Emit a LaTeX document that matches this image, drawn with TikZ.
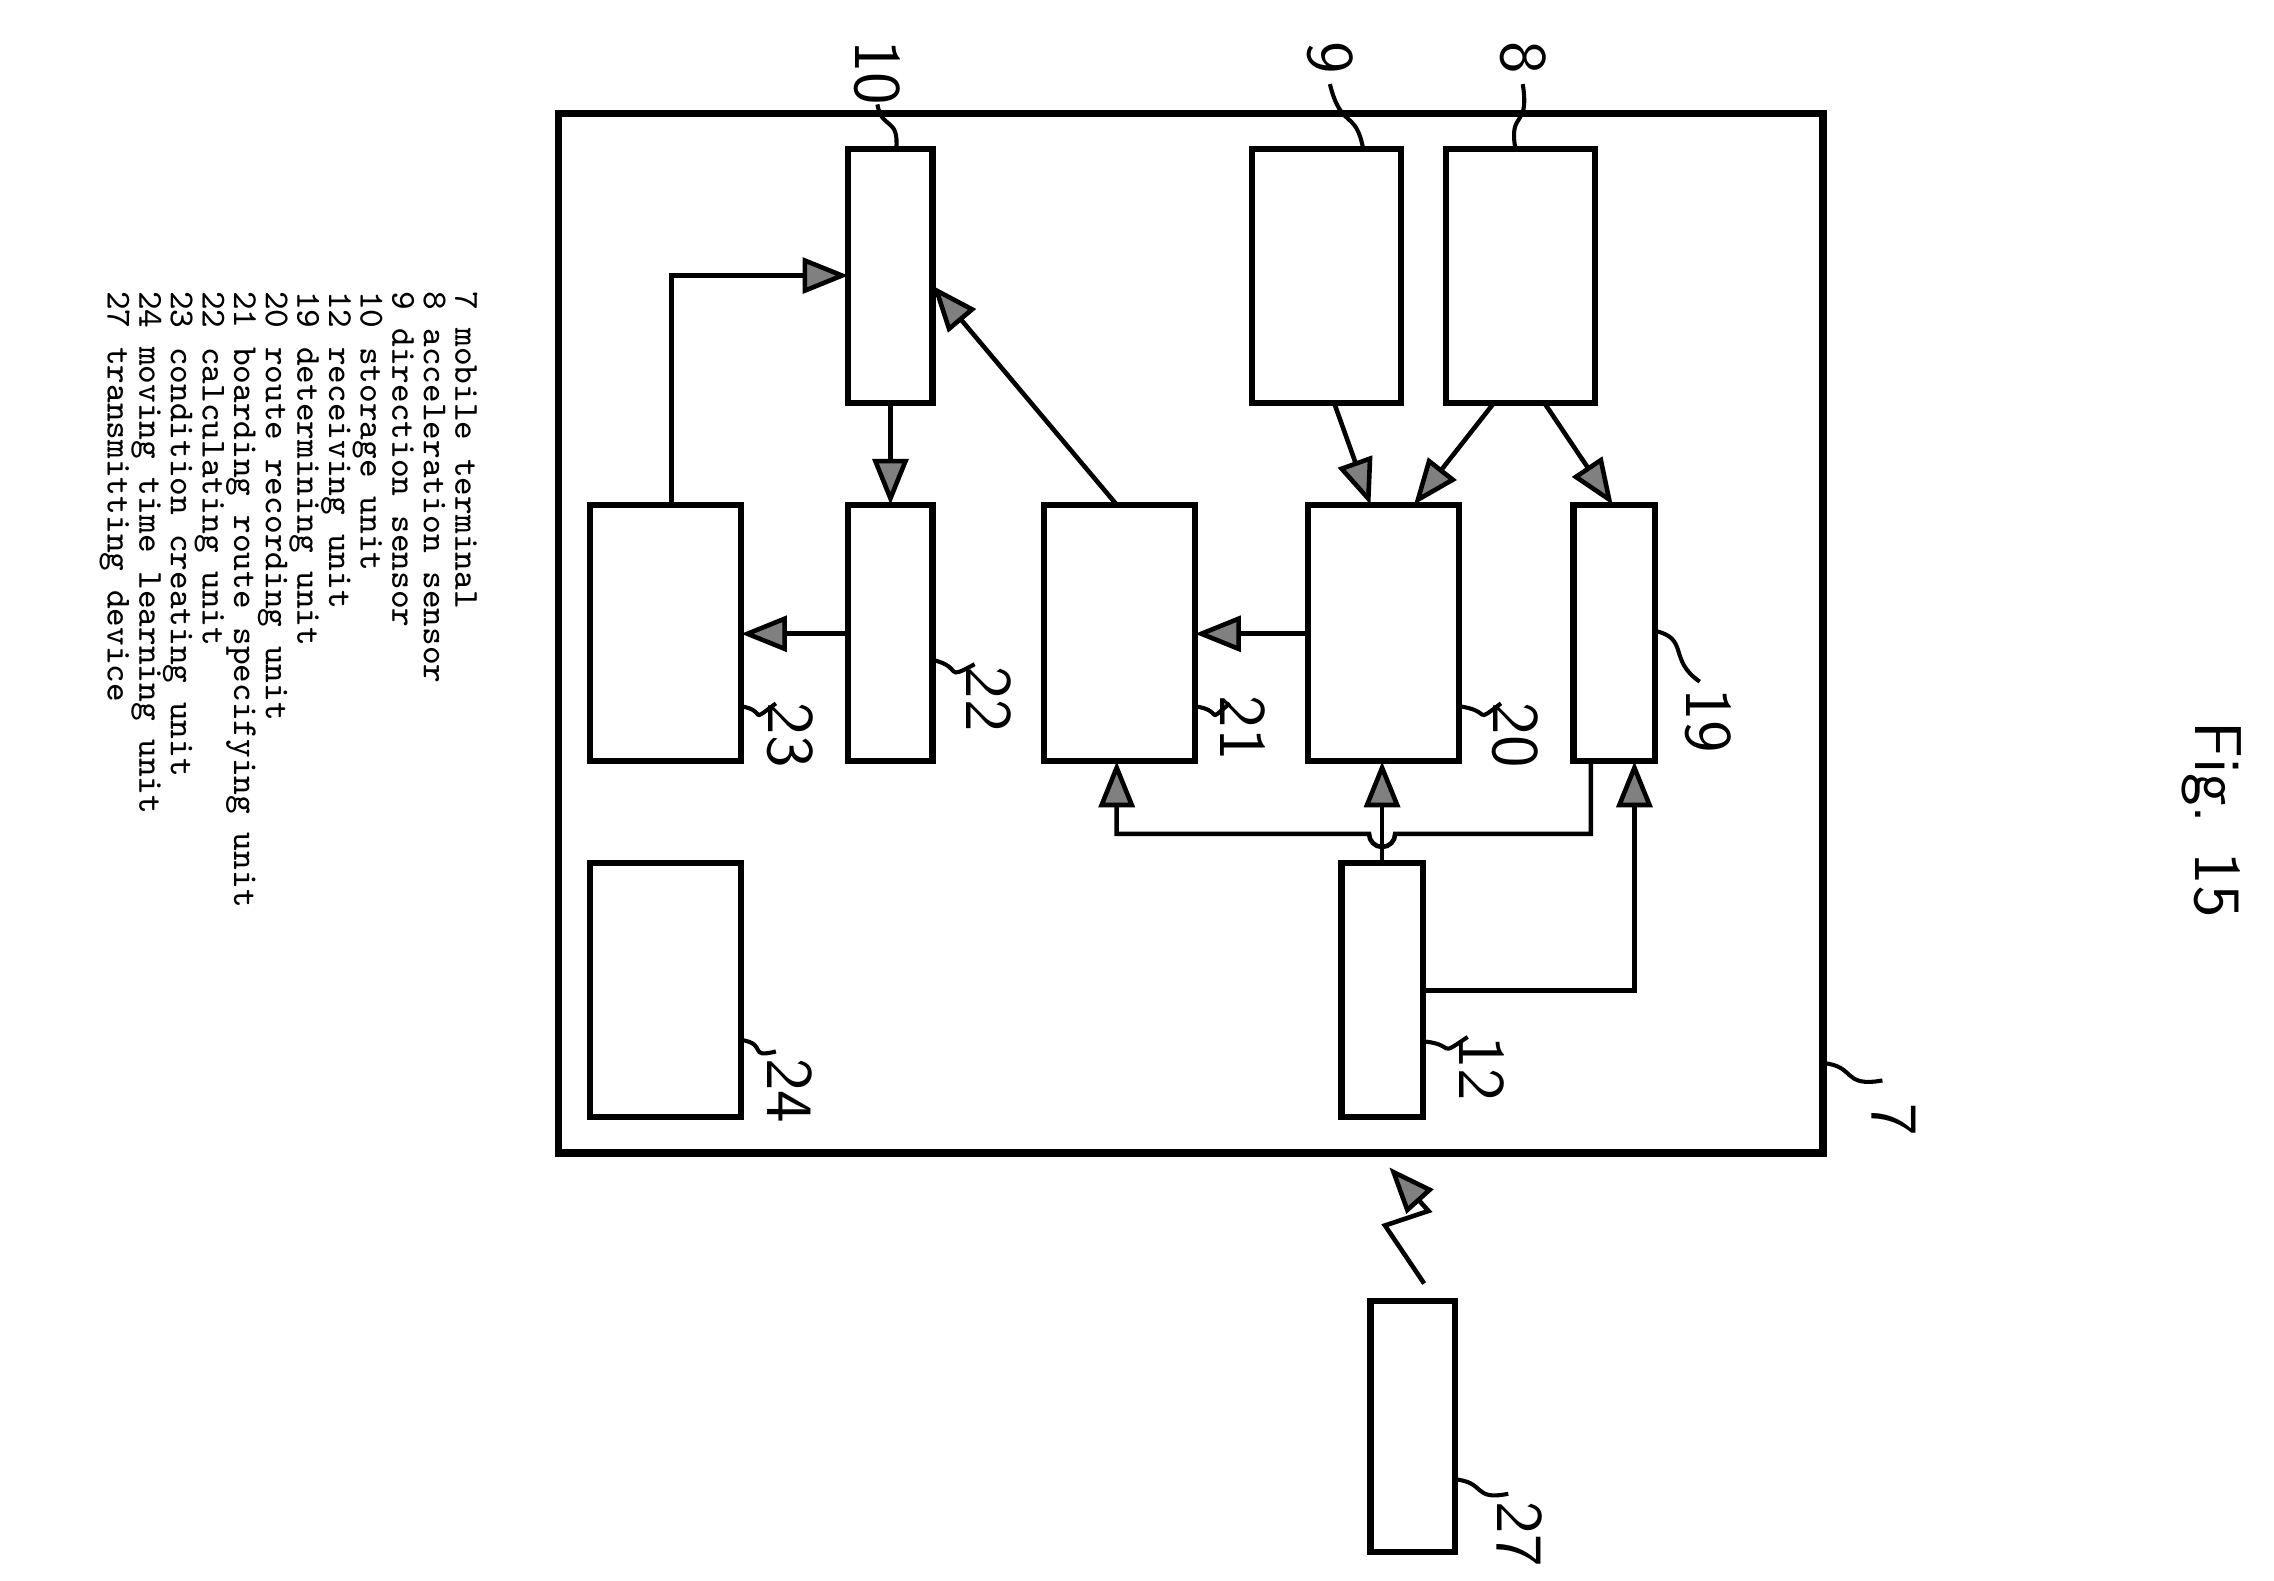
\documentclass[tikz,border=0pt]{standalone}
\usetikzlibrary{arrows.meta}
\tikzset{
  blk/.style={draw,line width=1.2pt,inner sep=0pt},
  arr/.style={line width=0.9pt,-{Triangle[length=9pt,width=7pt,fill=gray]}},
  lbl/.style={font=\sffamily\fontsize{13}{13}\selectfont,rotate=-90},
  lead/.style={line width=0.8pt},
}
\begin{document}
\begin{tikzpicture}[x=0.01cm,y=-0.01cm]
  \useasboundingbox (0,0) rectangle (1568,1090);
  % gehaeuse
  \draw[line width=1.4pt] (385,78) rectangle (1257,795);
  % bloecke
  \draw[blk] (585,103) rectangle (643,278);
  \draw[blk] (863,103) rectangle (966,278);
  \draw[blk] (997,103) rectangle (1100,278);
  \draw[blk] (407,348) rectangle (511,525);
  \draw[blk] (585,348) rectangle (643,525);
  \draw[blk] (720,348) rectangle (824,525);
  \draw[blk] (902,348) rectangle (1006,525);
  \draw[blk] (1085,348) rectangle (1141,525);
  \draw[blk] (407,595) rectangle (511,770);
  \draw[blk] (925,595) rectangle (981,770);
  \draw[blk] (945,897) rectangle (1003,1070);
  % pfeile
  \draw[arr] (463,348) -- (463,190) -- (585,190);
  \draw[arr] (614,278) -- (614,348);
  \draw[arr] (770,348) -- (643,197);
  \draw[arr] (920,278) -- (945,348);
  \draw[arr] (1030,278) -- (975,348);
  \draw[arr] (1065,278) -- (1112,348);
  \draw[arr] (585,437) -- (511,437);
  \draw[arr] (902,437) -- (824,437);
  \draw[arr] (953,595) -- (953,525);
  \draw[arr] (1097,525) -- (1097,575) -- (962,575) arc (0:180:9) -- (770,575) -- (770,525);
  \draw[arr] (981,683) -- (1127,683) -- (1127,525);
  % funk
  \draw[arr] (982,885) -- (955,845) -- (985,835) -- (958,805);
  % nummern
  \node[lbl] at (605,50) {10}; \draw[lead] (605,72) .. controls (608,90) and (620,80) .. (618,103);
  \node[lbl] at (917,40) {9}; \draw[lead] (917,58) .. controls (925,90) and (935,75) .. (940,103);
  \node[lbl] at (1050,40) {8}; \draw[lead] (1050,58) .. controls (1055,90) and (1040,75) .. (1045,103);
  \node[lbl] at (1178,497) {19}; \draw[lead] (1141,435) .. controls (1165,440) and (1150,455) .. (1172,470);
  \node[lbl] at (1045,507) {20}; \draw[lead] (1006,487) .. controls (1030,490) and (1015,500) .. (1035,485);
  \node[lbl] at (857,502) {21}; \draw[lead] (824,487) .. controls (845,490) and (830,500) .. (848,485);
  \node[lbl] at (682,482) {22}; \draw[lead] (643,455) .. controls (665,460) and (650,470) .. (672,458);
  \node[lbl] at (545,507) {23}; \draw[lead] (511,487) .. controls (530,490) and (515,500) .. (535,485);
  \node[lbl] at (545,752) {24}; \draw[lead] (511,717) .. controls (530,720) and (515,730) .. (535,725);
  \node[lbl] at (1022,737) {12}; \draw[lead] (981,718) .. controls (1005,720) and (990,730) .. (1012,715);
  \node[lbl] at (1306,772) {7}; \draw[lead] (1257,733) .. controls (1280,735) and (1270,750) .. (1298,745);
  \node[lbl] at (1048,1058) {27}; \draw[lead] (1003,1020) .. controls (1025,1022) and (1015,1035) .. (1040,1030);
  \node[lbl] at (1525,565) {Fig. 15};
  % legende
  \node[rotate=-90,anchor=north west,align=left,inner sep=0pt,
        font=\ttfamily\fontsize{6.9}{6.2}\selectfont] at (330,200)
  {7  mobile terminal\\
   8  acceleration sensor\\
   9  direction sensor\\
   10   storage unit\\
   12  receiving unit\\
   19  determining unit\\
   20  route recording unit\\
   21  boarding route specifying unit\\
   22   calculating unit\\
   23  condition creating unit\\
   24  moving time learning unit\\
   27   transmitting device};
\end{tikzpicture}
\end{document}
